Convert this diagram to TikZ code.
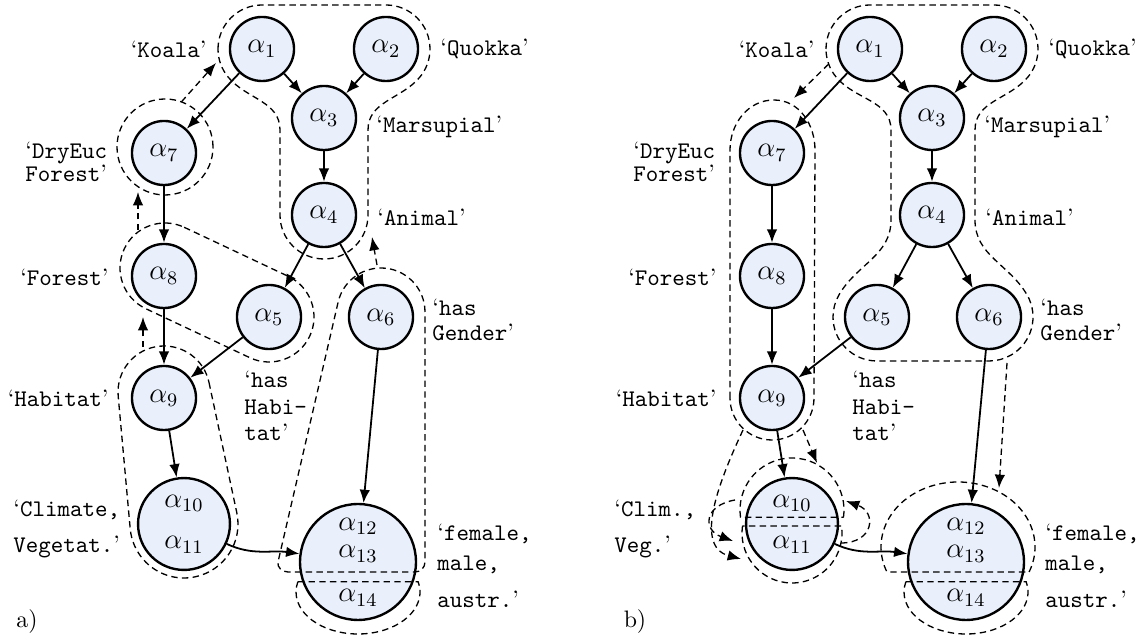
\documentclass[tikz,border=0pt]{standalone}
\usepackage{amsmath,amssymb}
\usepackage{xcolor}
\usepackage{tikz}
\usetikzlibrary{arrows.meta,calc,positioning}

\definecolor{nodefill}{RGB}{233,240,252}
\newcommand{\tql}{{\rmfamily ‘}}
\newcommand{\tqr}{{\rmfamily ’}}

\tikzset{
  vnode/.style={circle, draw, line width=1pt, fill=nodefill, minimum size=26.9pt, inner sep=0pt, font=\large},
  bignode/.style={vnode, minimum size=38.6pt, align=center},
  hugenode/.style={vnode, minimum size=48.7pt, align=center},
  link/.style={line width=0.75pt, -{Latex[length=5.6pt,width=4.4pt]}},
  region/.style={line width=0.55pt, dash pattern=on 2.7pt off 1.8pt},
  regarrow/.style={region, -{Latex[length=5.6pt,width=4.4pt]}},
  lbl/.style={font=\ttfamily, align=left, inner sep=0pt}
}

\begin{document}
\begin{tikzpicture}[x=0.42pt, y=0.42pt]
    \useasboundingbox (0,0) rectangle (1140,-640);

    % Both panels share the same graph
    \foreach \p/\dx/\cx/\clim in {a/0/13/{Climate,\\[3.5pt]Vegetat.}, b/608/6/{Clim.,\\[3.5pt]Veg.}} {
      \begin{scope}[shift={(\dx,0)}]
        % Variables
        \node[vnode] (\p1) at (262,-49) {$\alpha_1$};
        \node[vnode] (\p2) at (386,-49) {$\alpha_2$};
        \node[vnode] (\p3) at (324,-118) {$\alpha_3$};
        \node[vnode] (\p4) at (324,-215) {$\alpha_4$};
        \node[vnode] (\p5) at (269,-317) {$\alpha_5$};
        \node[vnode] (\p6) at (381,-317) {$\alpha_6$};
        \node[vnode] (\p7) at (164,-153) {$\alpha_7$};
        \node[vnode] (\p8) at (164,-276) {$\alpha_8$};
        \node[vnode] (\p9) at (164,-398) {$\alpha_9$};
        \node[bignode] (\p10) at (184,-524) {$\alpha_{10}$\\[3.5pt]$\alpha_{11}$};
        \node[hugenode] (\p12) at (358,-562) {$\alpha_{12}$\\[-2.3pt]$\alpha_{13}$\\[4.5pt]$\alpha_{14}$};

        % Edges
        \foreach \s/\t in {1/3,2/3,3/4,1/7,7/8,8/9,4/5,4/6,5/9,9/10,6/12}
          \draw[link] (\p\s) -- (\p\t);
        \draw[link] (\p10) to[out=-25,in=172] (\p12);

        % Labels
        \node[lbl, anchor=east] (\p-koala) at (207,-49) {\tql Koala\tqr};
        \node[lbl, anchor=west] (\p-quokka) at (440,-49) {\tql Quokka\tqr};
        \node[lbl, anchor=west] (\p-dryeuc) at (25,-161.5) {\tql DryEuc\\[-2.3pt]Forest\tqr};
        \node[lbl, anchor=west] (\p-marsup) at (376,-127) {\tql Marsupial\tqr};
        \node[lbl, anchor=west] (\p-animal) at (377,-217) {\tql Animal\tqr};
        \node[lbl, anchor=east] (\p-forest) at (109,-277) {\tql Forest\tqr};
        \node[lbl, anchor=west] (\p-gender) at (432,-319.5) {\tql has\\[-1.5pt]Gender\tqr};
        \node[lbl, anchor=east] (\p-habitat) at (109,-398) {\tql Habitat\tqr};
        \node[lbl, anchor=west] (\p-hashab) at (244,-406) {\tql has\\[-1pt]Habi-\\[-1pt]tat\tqr};
        \node[lbl, anchor=west] (\p-climate) at (\cx,-529) {\tql\clim\tqr};
        \node[lbl, anchor=west] (\p-female) at (437,-566) {\tql female,\\[0.6pt]male,\\[3.5pt]austr.\tqr};
        \node (\p-panel) at (27,-622) {\p)};
      \end{scope}
    }

    % a) regions
    \draw[region] ($(a1)+(180:44)$) arc[start angle=180, end angle=90, radius=44]
      -- ($(a2)+(90:44)$) arc[start angle=90, end angle=-40, radius=44]
      to[out=230, in=90] ($(a3)+(44,-12)$) -- ($(a4)+(44,0)$)
      arc[start angle=0, end angle=-180, radius=44]
      -- ($(a3)+(-44,-12)$) to[out=90, in=-50] ($(a1)+(-140:44)$)
      arc[start angle=-140, end angle=-180, radius=44] -- cycle;
    \draw[region] ($(a7)+(1,6)$) circle[radius=48];
    \draw[region] ($(a8)+(1,8)+(64.8:45)$) -- ($(a5)+(64.8:45)$)
      arc[start angle=64.8, end angle=-115.2, radius=45]
      -- ($(a8)+(1,8)+(-115.2:45)$)
      arc[start angle=-115.2, end angle=-295.2, radius=45] -- cycle;
    \draw[region] ($(a9)+(0,6)+(12:46)$) -- ($(a10)+(12:54)$)
      arc[start angle=12, end angle=-174.8, radius=54]
      -- ($(a9)+(0,6)+(-174.8:46)$)
      arc[start angle=-174.8, end angle=-348, radius=46] -- cycle;
    \draw[region] ($(a6)+(44,5)$) arc[start angle=0, end angle=166.65, radius=44]
      -- (278,-562) to[out=-103, in=180] (288,-572) -- (415,-572)
      to[out=0, in=-90] (425,-562) -- cycle;
    \draw[region] ($(a12)+(0,-30)+(166:62 and 42)$) -- ($(a12)+(0,-30)+(14:62 and 42)$)
      arc[start angle=14, end angle=-194, x radius=62, y radius=42];

    % a) region arrows
    \coordinate (aDE-out) at ($(a7)+(1,6)+(70:48)$);
    \coordinate (aKQ-in) at ($(a1)+(-46,-14)$);
    \coordinate (aF-out) at ($(a8)+(-26,46)$);
    \coordinate (aDE-in) at ($(a7)+(-26,-39)$);
    \coordinate (aH-out) at ($(a9)+(-21,51)$);
    \coordinate (aF-in) at ($(a8)+(-21,-41)$);
    \coordinate (aG-out) at ($(a6)+(-4,52)$);
    \coordinate (aA-in) at ($(a4)+(48,-22)$);
    \draw[regarrow] (aDE-out) -- (aKQ-in);
    \draw[regarrow] (aF-out) -- (aDE-in);
    \draw[regarrow] (aH-out) -- (aF-in);
    \draw[regarrow] (aG-out) -- (aA-in);

    % b) regions
    \draw[region] ($(b1)+(180:44)$) arc[start angle=180, end angle=90, radius=44]
      -- ($(b2)+(90:44)$) arc[start angle=90, end angle=-40, radius=44]
      to[out=230, in=90] ($(b3)+(43,-12)$) -- ($(b4)+(43,-5)$)
      to[out=-90, in=120] ($(b6)+(30:44)$) arc[start angle=30, end angle=-90, radius=44]
      -- ($(b5)+(-90:44)$) arc[start angle=-90, end angle=-210, radius=44]
      to[out=60, in=-90] ($(b4)+(-41,-5)$) -- ($(b3)+(-41,-12)$)
      to[out=90, in=-50] ($(b1)+(-140:44)$)
      arc[start angle=-140, end angle=-180, radius=44] -- cycle;
    \draw[region] ($(b9)+(-42,0)$) -- ($(b7)+(-42,3)$) to[out=90, in=180] ($(b7)+(2,53)$)
      to[out=0, in=90] ($(b7)+(43,3)$) -- ($(b9)+(42,0)$)
      arc[start angle=0, end angle=-180, radius=42] -- cycle;
    \draw[region] ($(b10)+(0,14)+(-8:52)$) arc[start angle=-8, end angle=188, radius=52] -- cycle;
    \draw[region] ($(b10)+(0,-9)+(172:50)$) arc[start angle=172, end angle=368, radius=50] -- cycle;
    \draw[region] ($(b12)+(-8,15)+(-22.6:77 and 65)$)
      arc[start angle=-22.6, end angle=202.6, x radius=77, y radius=65] -- cycle;
    \draw[region] ($(b12)+(0,-30)+(166:62 and 42)$) -- ($(b12)+(0,-30)+(14:62 and 42)$)
      arc[start angle=14, end angle=-194, x radius=62, y radius=42];

    % b) region arrows
    \coordinate (bKQ-out) at ($(b1)+(200:44)$);
    \coordinate (bDE-in) at ($(b7)+(22,55)$);
    \coordinate (bG-out) at ($(b6)+(18,-46)$);
    \coordinate (bF-in) at ($(b12)+(33,74)$);
    \coordinate (bH-out1) at ($(b9)+(31,-32)$);
    \coordinate (bC-in1) at ($(b10)+(25,61)$);
    \coordinate (bH-out2) at ($(b9)+(-29,-32)$);
    \coordinate (bV-in2) at ($(b10)+(-51,-35)$);
    \coordinate (bV-out) at ($(b10)+(49,-19)$);
    \coordinate (bC-in) at ($(b10)+(54,23)$);
    \coordinate (bC-out) at ($(b10)+(-57,24)$);
    \coordinate (bV-in) at ($(b10)+(-59,-17)$);
    \draw[regarrow] (bKQ-out) -- (bDE-in);
    \draw[regarrow] (bG-out) -- (bF-in);
    \draw[regarrow] (bH-out1) -- (bC-in1);
    \draw[regarrow] (bH-out2) to[out=-115, in=165] (bV-in2);
    \draw[regarrow] (bV-out) to[out=0, in=-20, looseness=2] (bC-in);
    \draw[regarrow] (bC-out) to[out=190, in=160, looseness=2] (bV-in);
\end{tikzpicture}
\end{document}
